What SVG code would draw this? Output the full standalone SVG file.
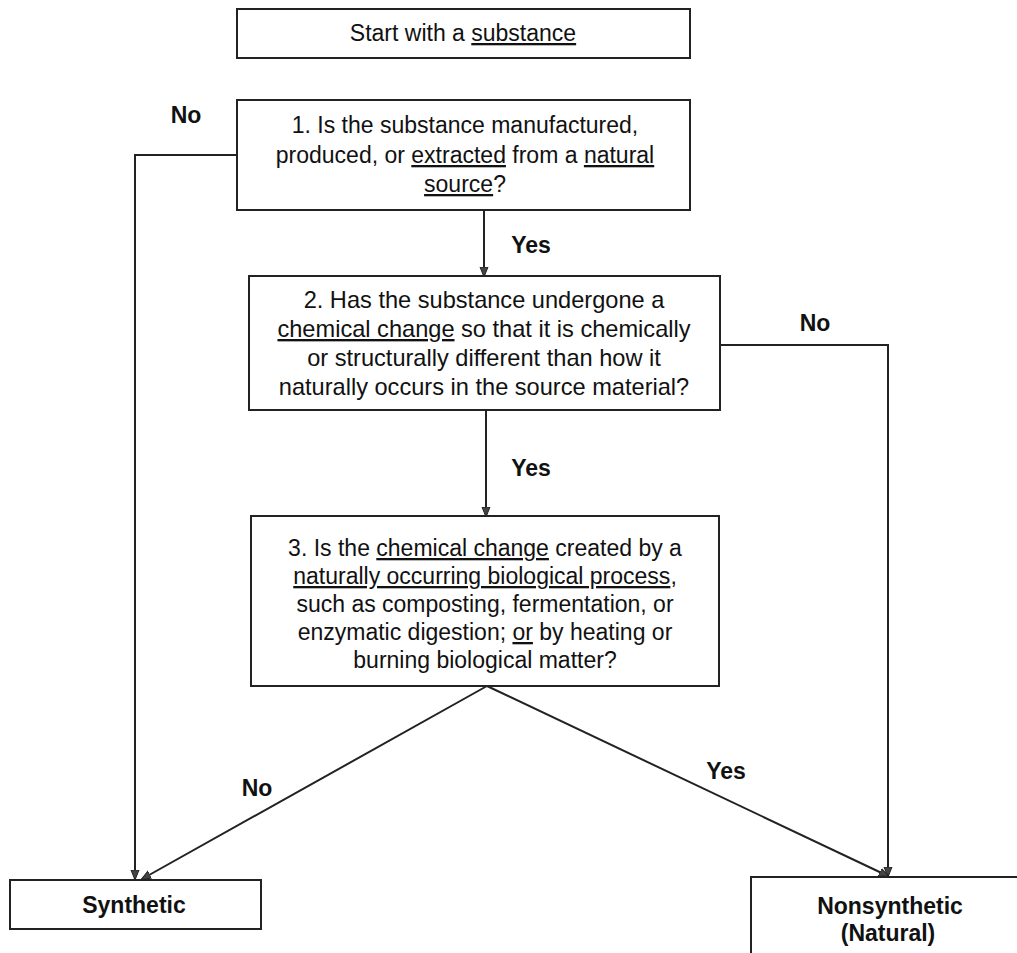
<svg xmlns="http://www.w3.org/2000/svg" width="1017" height="953" viewBox="0 0 1017 953">
<style>
.box{fill:#fff;stroke:#222;stroke-width:2}
.t{font-family:"Liberation Sans",Arial,sans-serif;font-size:23px;fill:#111;text-anchor:middle}
.t2{font-size:23.6px}
.lbl{font-family:"Liberation Sans",Arial,sans-serif;font-size:23px;font-weight:bold;fill:#111;text-anchor:middle}
.end{font-family:"Liberation Sans",Arial,sans-serif;font-size:23px;font-weight:bold;fill:#111;text-anchor:middle}
.u{text-decoration:underline}
.c{fill:none;stroke:#222;stroke-width:2;marker-end:url(#ah)}
</style>
<defs>
<marker id="ah" markerWidth="10" markerHeight="10" refX="9" refY="5" orient="auto" markerUnits="userSpaceOnUse">
<path d="M0,1 L10,5 L0,9 Z" fill="#444" stroke="#222" stroke-width="1"/>
</marker>
</defs>
<rect width="1017" height="953" fill="#fff"/>
<g id="connectors">
<path class="c" d="M238,155 H135 V879"/>
<path class="c" d="M484,210 V276"/>
<path class="c" d="M486,410 V516"/>
<path class="c" d="M720,345 H888 V876"/>
<path class="c" d="M487,686 L142,879"/>
<path class="c" d="M487,686 L888,876"/>
</g>
<g id="labels">
<text class="lbl" x="186" y="123">No</text>
<text class="lbl" x="531" y="253">Yes</text>
<text class="lbl" x="815" y="331">No</text>
<text class="lbl" x="531" y="476">Yes</text>
<text class="lbl" x="257" y="796">No</text>
<text class="lbl" x="726" y="779">Yes</text>
</g>
<g id="start">
<rect class="box" x="237" y="9" width="453" height="49"/>
<text class="t" x="463" y="41">Start with a <tspan class="u">substance</tspan></text>
</g>
<g id="q1">
<rect class="box" x="237" y="100" width="453" height="110"/>
<text class="t" x="465" y="133">1. Is the substance manufactured,</text>
<text class="t" x="465" y="163">produced, or <tspan class="u">extracted</tspan> from a <tspan class="u">natural</tspan></text>
<text class="t" x="465" y="192"><tspan class="u">source</tspan>?</text>
</g>
<g id="q2">
<rect class="box" x="249" y="276" width="471" height="134"/>
<text class="t t2" x="484" y="308">2. Has the substance undergone a</text>
<text class="t t2" x="484" y="337"><tspan class="u">chemical change</tspan> so that it is chemically</text>
<text class="t t2" x="484" y="366">or structurally different than how it</text>
<text class="t t2" x="484" y="395">naturally occurs in the source material?</text>
</g>
<g id="q3">
<rect class="box" x="251" y="516" width="468" height="170"/>
<text class="t" x="485" y="556">3. Is the <tspan class="u">chemical change</tspan> created by a</text>
<text class="t" x="485" y="584"><tspan class="u">naturally occurring biological process</tspan>,</text>
<text class="t" x="485" y="612">such as composting, fermentation, or</text>
<text class="t" x="485" y="640">enzymatic digestion; <tspan class="u">or</tspan> by heating or</text>
<text class="t" x="485" y="668">burning biological matter?</text>
</g>
<g id="synthetic">
<rect class="box" x="10" y="880" width="251" height="49"/>
<text class="end" x="134" y="913">Synthetic</text>
</g>
<g id="nonsynthetic">
<rect class="box" x="751" y="877" width="300" height="100"/>
<text class="end" x="890" y="914">Nonsynthetic</text>
<text class="end" x="888" y="941">(Natural)</text>
</g>
</svg>
